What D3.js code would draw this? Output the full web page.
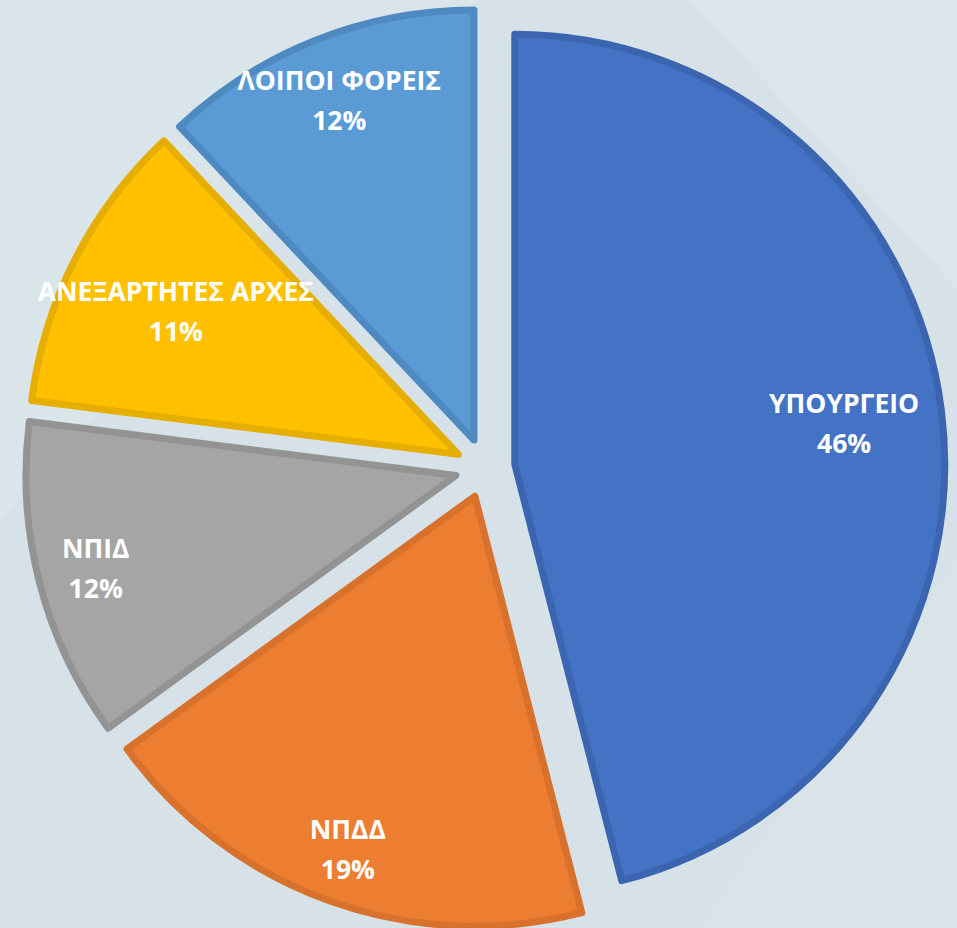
<!DOCTYPE html>
<html>
<head>
<meta charset="utf-8">
<script src="https://cdn.jsdelivr.net/npm/d3@7"></script>
<style>
  body { margin: 0; background: #d6e2e8; }
  svg { display: block; }
</style>
</head>
<body>
<div id="chart"></div>
<script>
// data
var categories = ["ΥΠΟΥΡΓΕΙΟ", "ΝΠΔΔ", "ΝΠΙΔ", "ΑΝΕΞΑΡΤΗΤΕΣ ΑΡΧΕΣ", "ΛΟΙΠΟΙ ΦΟΡΕΙΣ"];
var values = [46, 19, 12, 11, 12];
var percentLabels = ["46%", "19%", "12%", "11%", "12%"];

// look
var fills   = ["#4472c4", "#ed7d31", "#a5a5a5", "#ffc000", "#5b9bd5"];
var borders = ["#3c65b1", "#d8712c", "#939393", "#e6ae00", "#4f89c1"];
// label distance from the slice tip, as part of the radius
var labelDist = [0.772, 0.872, 0.865, 0.737, 0.851];

var width = 957, height = 928;
var cx = 485, cy = 468;
var radius = 430;
var explode = 30;

var svg = d3.select("#chart")
  .append("svg")
    .attr("width", width)
    .attr("height", height);

// background with soft diagonal bands
var bg = svg.append("g");
bg.append("rect")
  .attr("width", width).attr("height", height)
  .attr("fill", "#d6e2e8");
var bands = [
  { pts: [[0,0],[480,0],[0,520]], c: "#dae5ea" },
  { pts: [[690,0],[957,0],[957,290]], c: "#dbe5ea" },
  { pts: [[957,560],[957,928],[700,928]], c: "#d9e4e9" }
];
bg.selectAll("polygon")
  .data(bands)
  .enter()
  .append("polygon")
    .attr("points", function(d) { return d.pts.map(function(p) { return p.join(","); }).join(" "); })
    .attr("fill", function(d) { return d.c; });

var pie = d3.pie().sort(null).value(function(d) { return d; });
var arcs = pie(values);

var arc = d3.arc()
  .innerRadius(0)
  .outerRadius(radius);

function tip(d) {
  var a = (d.startAngle + d.endAngle) / 2;
  return [explode * Math.sin(a), -explode * Math.cos(a)];
}

var slices = svg.append("g")
  .attr("transform", "translate(" + cx + "," + cy + ")");

slices.selectAll("path")
  .data(arcs)
  .enter()
  .append("path")
    .attr("d", arc)
    .attr("transform", function(d) { return "translate(" + tip(d) + ")"; })
    .attr("fill", function(d, i) { return fills[i]; })
    .attr("stroke", function(d, i) { return borders[i]; })
    .attr("stroke-width", 7)
    .attr("stroke-linejoin", "round");

// labels
var labels = slices.selectAll("g.lbl")
  .data(arcs)
  .enter()
  .append("g")
    .attr("class", "lbl")
    .attr("transform", function(d, i) {
      var a = (d.startAngle + d.endAngle) / 2;
      var t = tip(d);
      var r = radius * labelDist[i];
      return "translate(" + (t[0] + r * Math.sin(a)) + "," + (t[1] - r * Math.cos(a)) + ")";
    })
    .style("font-family", "'Open Sans', 'Noto Sans', sans-serif")
    .style("font-weight", "bold")
    .style("font-size", "26.5px")
    .attr("fill", "#ffffff")
    .attr("text-anchor", "middle");

labels.append("text")
  .attr("y", -20)
  .attr("dominant-baseline", "central")
  .text(function(d, i) { return categories[i]; });

labels.append("text")
  .attr("y", 20)
  .attr("dominant-baseline", "central")
  .text(function(d, i) { return percentLabels[i]; });
</script>
</body>
</html>
